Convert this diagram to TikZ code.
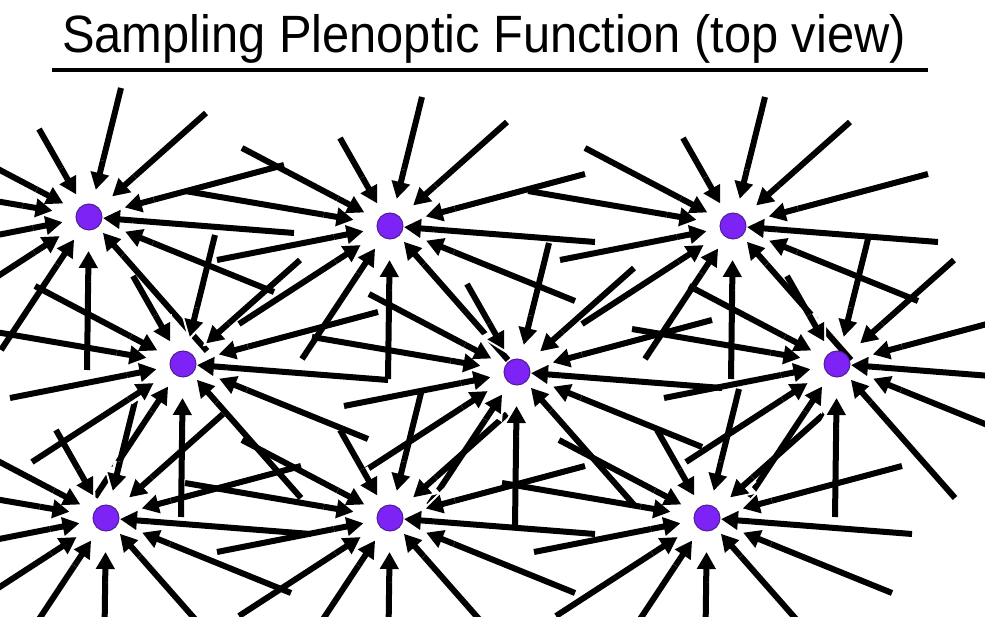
\documentclass[tikz,border=0pt]{standalone}
\usepackage{fontspec}
\setmainfont{Liberation Sans}
\usetikzlibrary{arrows.meta,calc}
\pgfdeclarelayer{bg}
\pgfsetlayers{bg,main}
\definecolor{dotfill}{RGB}{125,35,245}
\definecolor{dotline}{RGB}{80,30,150}
\tikzset{
  arr/.style={line width=6pt, black, -{Triangle[length=17pt,width=18pt]}},
  halo/.style={line width=12pt, white, -{Triangle[length=28pt,width=28pt]}},
  sample/.style={circle, fill=dotfill, draw=dotline, line width=1pt, minimum size=26pt, inner sep=0pt},
}
\newcommand\starlist{32/129/28, 117/104/31, 195/52/37, 205/-16/14, 185/-75/39, 118/-134/21, -2/-153/34, -88/-133/27, -151/-98/35, -173/-34/27, -205/35/37, -148/78/29, -50/88/26}
\begin{document}
\begin{tikzpicture}[x=1pt,y=1pt]
\useasboundingbox (0,0) rectangle (985,616);
\clip (0,0) rectangle (985,616);
\begin{pgfonlayer}{bg}
\fill[white] (0,0) rectangle (985,616);
\end{pgfonlayer}
% sample points
\foreach \n/\x/\y in {1/89/399, 2/390/390, 3/733/390, 4/183/252, 5/517/244, 6/837/252, 7/106/98, 8/390/98, 9/707/98}{
  \node[sample] (d\n) at (\x,\y) {};
}
\begin{pgfonlayer}{bg}
% full rays
\foreach \n in {1,...,9}{
  \foreach \dx/\dy/\r [count=\k] in \starlist{
    \coordinate (t\n-\k) at ($(d\n.center)+(\dx,\dy)$);
    \draw[arr, shorten >=\r pt] (t\n-\k) -- (d\n.center);
  }
}
% white halos and heads near each sample
\foreach \n in {1,...,9}{
  \foreach \dx/\dy/\r [count=\k] in \starlist{
    \pgfmathsetmacro\rr{\r+30}
    \pgfmathsetmacro\rs{\r-5}
    \draw[halo, shorten >=\rs pt] ($(d\n.center)!\rr pt!(t\n-\k)$) -- (d\n.center);
  }
  \foreach \dx/\dy/\r [count=\k] in \starlist{
    \pgfmathsetmacro\rr{\r+30}
    \draw[arr, shorten >=\r pt] ($(d\n.center)!\rr pt!(t\n-\k)$) -- (d\n.center);
  }
}
\end{pgfonlayer}
% title
\node[anchor=base, inner sep=0pt, xscale=0.93, font=\fontsize{52.5}{60}\selectfont] (title) at (484,563) {Sampling Plenoptic Function (top view)};
\draw[line width=4pt] (52,546) -- (928,546);
\end{tikzpicture}
\end{document}
